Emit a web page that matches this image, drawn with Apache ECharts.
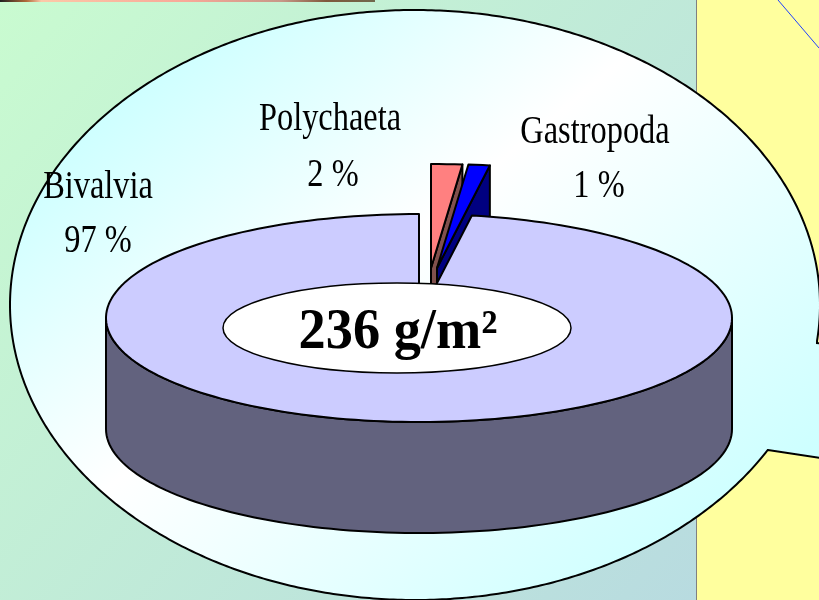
<!DOCTYPE html>
<html>
<head>
<meta charset="utf-8">
<style>
  html, body { margin: 0; padding: 0; background: #fff; }
  #chart { width: 819px; height: 600px; }
</style>
<script src="https://cdn.jsdelivr.net/npm/echarts@6/dist/echarts.min.js"></script>
</head>
<body>
<div id="chart"></div>
<script>
// slices run clockwise from 12 o'clock
const categories = ['Polychaeta', 'Gastropoda', 'Bivalvia'];
const shares = [1.6, 1.1, 97.3];
const totalLabel = '236 g/m²';

const topColors = ['#ff8080', '#0000ff', '#ccccff'];
const sideColors = ['#80504d', '#000080', '#62627e'];
const explode = [[12, -50], [18, -50], [0, 0]];
const labelPos = [[330, 119, 333, 175], [595, 132, 599, 186], [98, 187, 98, 241]];

const PIE = { cx: 419, cy: 318, rx: 313, ry: 104, depth: 111 };
const SERIF = '"Liberation Serif", "Times New Roman", serif';
const INK = '#000';

function rim(theta, dx, dy, drop) {
  return [
    PIE.cx + dx + PIE.rx * Math.sin(theta),
    PIE.cy + dy - PIE.ry * Math.cos(theta) + (drop || 0)
  ];
}

function arc(from, to, dx, dy, drop) {
  const steps = Math.max(2, Math.ceil(Math.abs(to - from) / 0.03));
  const pts = [];
  for (let i = 0; i <= steps; i++) {
    pts.push(rim(from + (to - from) * i / steps, dx, dy, drop));
  }
  return pts;
}

function toAngle(v) {
  return echarts.number.linearMap(v, [0, 100], [0, Math.PI * 2]);
}

function renderSlice(params, api) {
  const i = params.dataIndex;
  const share = api.value(0);
  const start = toAngle(shares.slice(0, i).reduce((a, b) => a + b, 0));
  const end = start + toAngle(share);
  const [dx, dy] = explode[i];
  const apex = [PIE.cx + dx, PIE.cy + dy];
  const line = { stroke: INK, lineWidth: 2, lineJoin: 'round' };
  const children = [];

  if (share > 50) {
    // big slice: only the front of the drum can be seen
    const front = arc(Math.PI / 2, Math.PI * 1.5, dx, dy);
    const frontLow = arc(Math.PI * 1.5, Math.PI / 2, dx, dy, PIE.depth);
    children.push({
      type: 'polygon',
      shape: { points: front.concat(frontLow) },
      style: { fill: sideColors[i], ...line }
    });
  } else {
    // small slice: the cut wall on its clockwise side
    const edge = rim(end, dx, dy);
    children.push({
      type: 'polygon',
      shape: {
        points: [apex, edge, [edge[0], edge[1] + PIE.depth], [apex[0], apex[1] + PIE.depth]]
      },
      style: { fill: sideColors[i], ...line }
    });
  }

  children.push({
    type: 'polygon',
    shape: { points: [apex].concat(arc(start, end, dx, dy)) },
    style: { fill: topColors[i], ...line }
  });
  return { type: 'group', children };
}

function renderLabel(params, api) {
  const i = params.dataIndex;
  const [nx, ny, px, py] = labelPos[i];
  const font = '41px ' + SERIF;
  const text = (x, y, str) => ({
    type: 'text',
    x: x,
    y: y,
    scaleX: 0.79,
    style: { text: str, font, fill: INK, align: 'center', verticalAlign: 'middle' }
  });
  return {
    type: 'group',
    children: [
      text(nx, ny, categories[i]),
      text(px, py, Math.round(api.value(0)) + ' %')
    ]
  };
}

// callout outline: ellipse with the tail running off to the right
function bubblePoints() {
  const cx = 415, cy = 305, rx = 405, ry = 295;
  const pts = [];
  const a0 = Math.asin((450 - cy) / ry);
  const a1 = Math.PI * 2 + Math.asin((343 - cy) / ry);
  for (let a = a0; a < a1; a += 0.01) {
    pts.push([cx + rx * Math.cos(a), cy + ry * Math.sin(a)]);
  }
  pts.push([817, 343], [840, 345], [840, 461], [768, 450]);
  return pts;
}

const chart = echarts.init(document.getElementById('chart'), null, { renderer: 'canvas' });

chart.setOption({
  animation: false,
  backgroundColor: '#ffff9e',
  graphic: [
    {
      type: 'rect', z: 0, silent: true,
      shape: { x: 0, y: 0, width: 696, height: 600 },
      style: {
        fill: new echarts.graphic.LinearGradient(0, 0, 696, 600, [
          { offset: 0, color: '#c9fbd0' },
          { offset: 1, color: '#b8dbe0' }
        ], true)
      }
    },
    {
      type: 'line', z: 0, silent: true,
      shape: { x1: 696.5, y1: 0, x2: 696.5, y2: 600 },
      style: { stroke: '#808080', lineWidth: 1 }
    },
    {
      type: 'rect', z: 0, silent: true,
      shape: { x: 0, y: 0, width: 375, height: 2 },
      style: {
        fill: new echarts.graphic.LinearGradient(0, 0, 375, 0, [
          { offset: 0, color: '#202020' },
          { offset: 0.07, color: '#b06a3a' },
          { offset: 0.11, color: '#fcc8a8' },
          { offset: 0.5, color: '#f8a898' },
          { offset: 0.75, color: '#c89888' },
          { offset: 0.87, color: '#80583c' },
          { offset: 1, color: '#70684c' }
        ], true)
      }
    },
    {
      type: 'line', z: 0, silent: true,
      shape: { x1: 778, y1: 0, x2: 819, y2: 48 },
      style: { stroke: '#2040ff', lineWidth: 1 }
    },
    {
      type: 'polygon', z: 1, silent: true,
      shape: { points: bubblePoints() },
      style: {
        stroke: INK,
        lineWidth: 2,
        fill: new echarts.graphic.LinearGradient(175, 40, 645, 605, [
          { offset: 0, color: '#ccffff' },
          { offset: 0.41, color: '#ffffff' },
          { offset: 1, color: '#ccffff' }
        ], true)
      }
    },
    {
      type: 'ellipse', z: 50, silent: true,
      shape: { cx: 397, cy: 328, rx: 174, ry: 45 },
      style: { fill: '#fff', stroke: INK, lineWidth: 1.5 }
    },
    {
      type: 'text', z: 51, silent: true,
      x: 398, y: 334, scaleX: 0.97,
      style: {
        text: totalLabel,
        font: 'bold 56px ' + SERIF,
        fill: INK,
        align: 'center',
        verticalAlign: 'middle'
      }
    }
  ],
  series: [
    {
      type: 'custom',
      name: 'slices',
      coordinateSystem: 'none',
      silent: true,
      z: 10,
      data: shares.map(v => [v]),
      renderItem: renderSlice
    },
    {
      type: 'custom',
      name: 'labels',
      coordinateSystem: 'none',
      silent: true,
      z: 60,
      data: shares.map(v => [v]),
      renderItem: renderLabel
    }
  ]
});
</script>
</body>
</html>
